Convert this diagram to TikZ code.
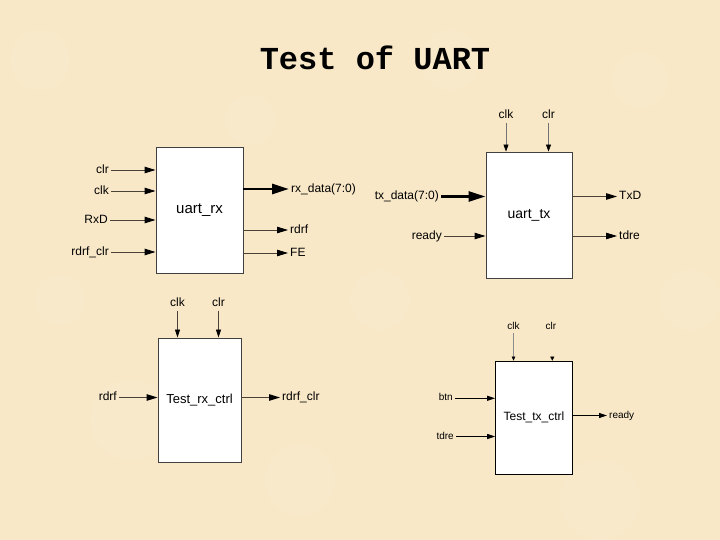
\documentclass[tikz,border=0pt]{standalone}
\usepackage{fontspec}
\setmainfont{Liberation Sans}
\newfontfamily\titlefont{Liberation Mono}
\usetikzlibrary{arrows.meta}
\definecolor{parch}{HTML}{F9E8C8}
\definecolor{wire}{HTML}{4A4238}
\begin{document}
\begin{tikzpicture}[x=1pt,y=-1pt,
  blk/.style={draw=black!75, fill=white, line width=0.9pt, inner sep=0pt},
  lbl/.style={font=\fontsize{12}{14}\selectfont, text height=8.6pt, text depth=2.4pt, inner sep=2pt},
  slbl/.style={font=\fontsize{10}{12}\selectfont, text height=7.2pt, text depth=2pt, inner sep=2pt},
  sig/.style={draw=wire, line width=0.9pt, -{Triangle[length=11pt,width=6.5pt,black]}},
  bus/.style={draw=black, line width=2.8pt, -{Triangle[length=17pt,width=10pt]}},
  ssig/.style={draw=black, line width=0.8pt, -{Triangle[length=8pt,width=5pt]}},
  tsig/.style={draw=black!45, line width=0.6pt, -{Triangle[length=4pt,width=3.5pt,black]}}
]
\useasboundingbox (0,0) rectangle (720,540);
\fill[parch] (0,0) rectangle (720,540);
\foreach \x/\y/\r in {40/60/30,130/420/40,300/480/35,640/80/28,600/500/40,380/300/30,60/300/25,690/300/30,250/120/25,450/60/30}
  \fill[white,opacity=0.06] (\x,\y) circle (\r);

\node[font=\titlefont\bfseries\fontsize{32}{35}\selectfont, inner sep=0pt] (title) at (375,58) {Test of UART};

% ---------- uart_rx ----------
\node[blk, minimum width=87pt, minimum height=126pt, font=\fontsize{15}{17}\selectfont] (rx) at (199.5,210) {uart\_rx};
\node[lbl, anchor=east] (rxclr) at (111,170) {clr};
\node[lbl, anchor=east] (rxclk) at (111,191) {clk};
\node[lbl, anchor=east] (rxrxd) at (110,220) {RxD};
\node[lbl, anchor=east] (rxrc) at (111,252) {rdrf\_clr};
\draw[sig] (rxclr.east) -- (rxclr.east -| rx.west);
\draw[sig] (rxclk.east) -- (rxclk.east -| rx.west);
\draw[sig] (rxrxd.east) -- (rxrxd.east -| rx.west);
\draw[sig] (rxrc.east) -- (rxrc.east -| rx.west);
\node[lbl, anchor=west] (rxdata) at (289,189) {rx\_data(7:0)};
\node[lbl, anchor=west] (rxrdrf) at (288,230) {rdrf};
\node[lbl, anchor=west] (rxfe) at (288,253) {FE};
\draw[bus] (rx.east |- rxdata.west) -- (rxdata.west);
\draw[sig] (rx.east |- rxrdrf.west) -- (rxrdrf.west);
\draw[sig] (rx.east |- rxfe.west) -- (rxfe.west);

% ---------- uart_tx ----------
\node[blk, minimum width=86pt, minimum height=126pt, font=\fontsize{14}{16}\selectfont] (tx) at (529,215) {uart\_tx};
\node[lbl] (txclk) at (506,115) {clk};
\node[lbl] (txclr) at (548.5,115) {clr};
\draw[sig, draw=black!55, line width=0.7pt, -{Triangle[length=7pt,width=5pt,black]}] (txclk.south) -- (txclk.south |- tx.north);
\draw[sig, draw=black!55, line width=0.7pt, -{Triangle[length=7pt,width=5pt,black]}] (txclr.south) -- (txclr.south |- tx.north);
\node[lbl, anchor=east] (txdata) at (441,196.5) {tx\_data(7:0)};
\node[lbl, anchor=east] (txready) at (444,236) {ready};
\draw[bus] (txdata.east) -- (txdata.east -| tx.west);
\draw[sig] (txready.east) -- (txready.east -| tx.west);
\node[lbl, anchor=west] (txtxd) at (617,196.5) {TxD};
\node[lbl, anchor=west] (txtdre) at (617,236) {tdre};
\draw[sig] (tx.east |- txtxd.west) -- (txtxd.west);
\draw[sig] (tx.east |- txtdre.west) -- (txtdre.west);

% ---------- Test_rx_ctrl ----------
\node[blk, minimum width=83pt, minimum height=124pt, font=\fontsize{13}{15}\selectfont] (rc) at (199.5,400) {Test\_rx\_ctrl};
\node[lbl] (rcclk) at (177.5,303) {clk};
\node[lbl] (rcclr) at (218.5,303) {clr};
\draw[sig, line width=0.7pt, -{Triangle[length=8pt,width=5pt,black]}] (rcclk.south) -- (rcclk.south |- rc.north);
\draw[sig, line width=0.7pt, -{Triangle[length=8pt,width=5pt,black]}] (rcclr.south) -- (rcclr.south |- rc.north);
\node[lbl, anchor=east] (rcrdrf) at (119,397.5) {rdrf};
\draw[sig] (rcrdrf.east) -- (rcrdrf.east -| rc.west);
\node[lbl, anchor=west] (rcrc) at (280,397.5) {rdrf\_clr};
\draw[sig] (rc.east |- rcrc.west) -- (rcrc.west);

% ---------- Test_tx_ctrl ----------
\node[draw=black, fill=white, line width=0.7pt, inner sep=0pt, minimum width=77pt, minimum height=113pt, font=\fontsize{12}{14}\selectfont] (tc) at (534,417.5) {Test\_tx\_ctrl};
\node[slbl] (tcclk) at (513.5,326.5) {clk};
\node[slbl] (tcclr) at (551,326.5) {clr};
\draw[tsig] (tcclk.south) -- (tcclk.south |- tc.north);
\coordinate (tcclrend) at (552.3,356.5);
\draw[draw=black, line width=0.3pt, -{Triangle[length=4pt,width=4pt,black]}] (tcclrend) -- (tcclrend |- tc.north);
\node[slbl, anchor=east] (tcbtn) at (455,398.3) {btn};
\node[slbl, anchor=east] (tctdre) at (456,436.5) {tdre};
\draw[ssig] (tcbtn.east) -- (tcbtn.east -| tc.west);
\draw[ssig] (tctdre.east) -- (tctdre.east -| tc.west);
\node[slbl, anchor=west] (tcready) at (607,415.5) {ready};
\draw[ssig] (tc.east |- tcready.west) -- (tcready.west);
\end{tikzpicture}
\end{document}
